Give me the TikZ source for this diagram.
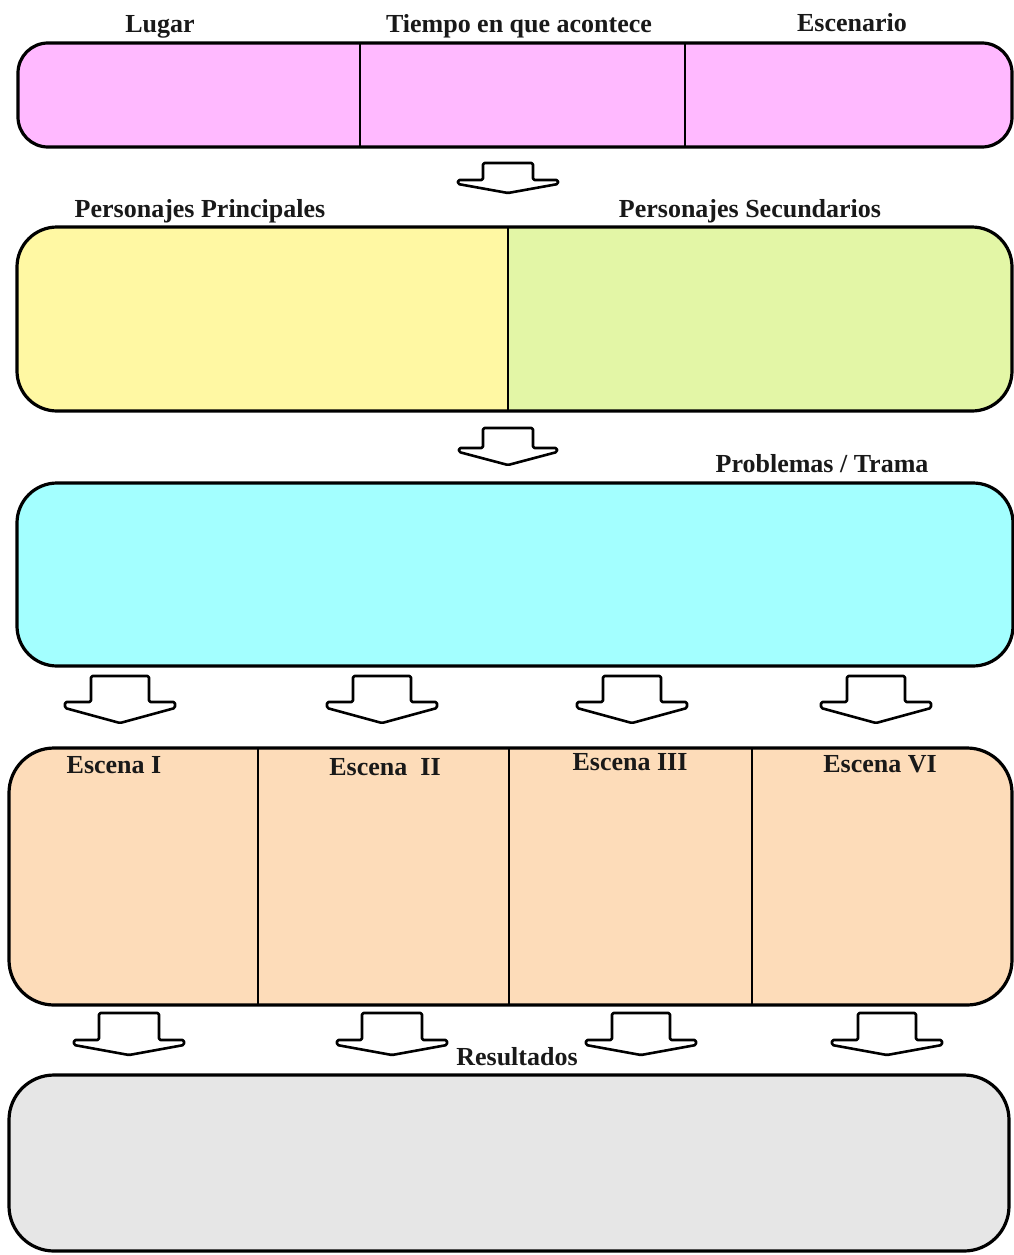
\documentclass[tikz,border=0pt]{standalone}
\usepackage{fontspec}
\setmainfont{Liberation Serif}
\definecolor{cpink}{HTML}{FFB9FF}
\definecolor{cyellow}{HTML}{FFF8A3}
\definecolor{cgreen}{HTML}{E3F6A6}
\definecolor{ccyan}{HTML}{A3FFFF}
\definecolor{cpeach}{HTML}{FDDCB9}
\definecolor{cgrey}{HTML}{E6E6E6}
\tikzset{
  boxline/.style={draw=black, line width=3.2pt},
  divline/.style={draw=black, line width=2.4pt},
  lbl/.style={font=\fontsize{26}{28}\selectfont\bfseries, anchor=base, inner sep=0pt, text=black!90},
  barrowstyle/.style={draw=black, fill=white, line width=2.6pt, line join=round, rounded corners=1.5pt}
}
% centre x, top y, shaft half width, wing half width, shaft height, wing edge height, total height
\newcommand{\BlockArrow}[7]{%
  \draw[barrowstyle] (#1-#3,#2) -- (#1+#3,#2) -- (#1+#3,#2+#5) -- (#1+#4,#2+#5)
    -- (#1+#4,#2+#5+#6) -- (#1,#2+#7) -- (#1-#4,#2+#5+#6) -- (#1-#4,#2+#5)
    -- (#1-#3,#2+#5) -- cycle;}
\begin{document}
\begin{tikzpicture}[x=1pt,y=-1pt]
\useasboundingbox[fill=white] (0,0) rectangle (1014,1255);

% ---- Box 1
\fill[cpink, rounded corners=30pt] (18,43) rectangle (1012,147);
\draw[divline] (360,43) -- (360,147);
\draw[divline] (685,43) -- (685,147);
\draw[boxline, rounded corners=30pt] (18,43) rectangle (1012,147);
\node[lbl] (lugar) at (160,33) {Lugar};
\node[lbl] (tiempo) at (519,33) {Tiempo en que acontece};
\node[lbl] (escenario) at (852,32) {Escenario};

\BlockArrow{508}{163}{25}{50}{17}{4}{30}

% ---- Box 2
\fill[cyellow, rounded corners=40pt] (17,227) rectangle (508,411);
\fill[cgreen] (508,227) rectangle (950,411);
\fill[cgreen, rounded corners=40pt] (480,227) rectangle (1012,411);
\fill[cyellow] (60,227) rectangle (508,411);
\draw[divline] (508,227) -- (508,411);
\draw[boxline, rounded corners=40pt] (17,227) rectangle (1012,411);
\node[lbl] (pprin) at (200,217) {Personajes Principales};
\node[lbl] (psec) at (750,217) {Personajes Secundarios};

\BlockArrow{508}{428}{25}{49}{20}{4}{37}

% ---- Box 3
\node[lbl] (trama) at (822,472) {Problemas / Trama};
\draw[boxline, fill=ccyan, rounded corners=40pt] (17,483) rectangle (1013,666);

\BlockArrow{120}{676}{29}{55}{26}{6}{47}
\BlockArrow{382}{676}{29}{55}{26}{6}{47}
\BlockArrow{632}{676}{29}{55}{26}{6}{47}
\BlockArrow{876}{676}{29}{55}{26}{6}{47}

% ---- Box 4
\fill[cpeach, rounded corners=45pt] (9,748) rectangle (1012,1005);
\draw[divline] (258,748) -- (258,1005);
\draw[divline] (509,748) -- (509,1005);
\draw[divline] (752,748) -- (752,1005);
\draw[boxline, rounded corners=45pt] (9,748) rectangle (1012,1005);
\node[lbl] (esc1) at (114,773) {Escena I};
\node[lbl] (esc2) at (385,775) {Escena\ \ II};
\node[lbl] (esc3) at (630,770) {Escena III};
\node[lbl] (esc4) at (880,772) {Escena VI};

\BlockArrow{129}{1013}{30}{55}{27}{5}{42}
\BlockArrow{392}{1013}{30}{55}{27}{5}{42}
\BlockArrow{641}{1013}{29}{55}{27}{5}{42}
\BlockArrow{887}{1013}{29}{55}{27}{5}{42}

% ---- Box 5
\node[lbl] (result) at (517,1065) {Resultados};
\draw[boxline, fill=cgrey, rounded corners=45pt] (9,1075) rectangle (1009,1251);
\end{tikzpicture}
\end{document}
